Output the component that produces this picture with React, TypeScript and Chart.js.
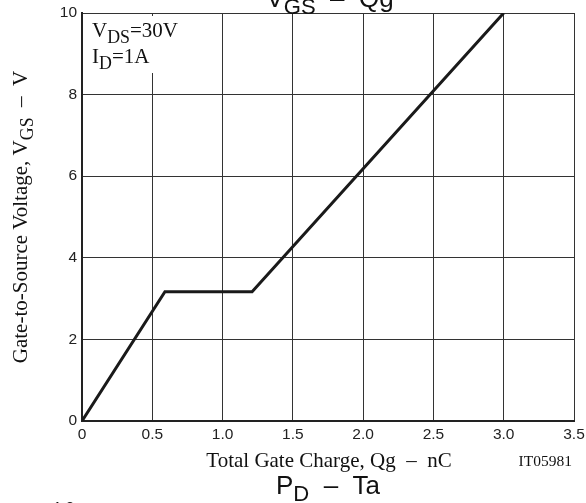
import React, { useEffect, useRef } from "react";
import { Chart, registerables } from "chart.js";

Chart.register(...registerables);

const qg = [0, 0.59, 1.21, 3.0];
const vgs = [0, 3.17, 3.17, 10];
const xTicks = [0, 0.5, 1.0, 1.5, 2.0, 2.5, 3.0, 3.5];
const yTicks = [0, 2, 4, 6, 8, 10];

const SERIF = "'Liberation Serif', 'Times New Roman', serif";
const SANS = "'Liberation Sans', Arial, sans-serif";

function drawSub(ctx: CanvasRenderingContext2D, parts: [string, boolean][], x: number, y: number, size: number, font: string, align: "left" | "center" | "right") {
  let total = 0;
  const widths: number[] = [];
  for (const [t, sub] of parts) {
    ctx.font = `${sub ? size * 0.85 : size}px ${font}`;
    const w = ctx.measureText(t).width;
    widths.push(w);
    total += w;
  }
  let cx = align === "left" ? x : align === "center" ? x - total / 2 : x - total;
  ctx.textAlign = "left";
  ctx.textBaseline = "alphabetic";
  parts.forEach(([t, sub], i) => {
    ctx.font = `${sub ? size * 0.85 : size}px ${font}`;
    ctx.fillText(t, cx, sub ? y + size * 0.28 : y);
    cx += widths[i];
  });
}

const textPlugin = {
  id: "texts",
  beforeDatasetsDraw(chart: any) {
    const ctx = chart.ctx as CanvasRenderingContext2D;
    const { left, top } = chart.chartArea;
    ctx.save();
    ctx.fillStyle = "#fff";
    ctx.fillRect(left + 2, top + 3, 100, 57);
    ctx.restore();
  },
  afterDraw(chart: any) {
    const ctx = chart.ctx as CanvasRenderingContext2D;
    const { left, right, top, bottom } = chart.chartArea;
    ctx.save();
    ctx.fillStyle = "#111";
    drawSub(ctx, [["V", false], ["DS", true], ["=30V", false]], left + 10, 37, 21, SERIF, "left");
    drawSub(ctx, [["I", false], ["D", true], ["=1A", false]], left + 10, 63, 21, SERIF, "left");
    ctx.font = `21px ${SERIF}`;
    ctx.textAlign = "center";
    ctx.textBaseline = "alphabetic";
    ctx.fillText("Total Gate Charge, Qg  \u2013  nC", (left + right) / 2 + 1, 467);
    ctx.font = `15.5px ${SERIF}`;
    ctx.textAlign = "right";
    ctx.fillText("IT05981", 572, 466);
    ctx.save();
    ctx.translate(27, (top + bottom) / 2);
    ctx.rotate(-Math.PI / 2);
    drawSub(ctx, [["Gate-to-Source Voltage, V", false], ["GS", true], ["  \u2013  V", false]], 0, 0, 21, SERIF, "center");
    ctx.restore();
    drawSub(ctx, [["V", false], ["GS", true], ["  \u2013  Qg", false]], 330, 7, 26, SANS, "center");
    drawSub(ctx, [["P", false], ["D", true], ["  \u2013  Ta", false]], 328, 494, 26, SANS, "center");
    ctx.font = `15px ${SANS}`;
    ctx.textAlign = "right";
    ctx.fillText("1.2", 74, 512);
    ctx.restore();
  },
};

export default function App() {
  const ref = useRef<HTMLCanvasElement>(null);
  useEffect(() => {
    document.body.style.margin = "0";
    const chart = new Chart(ref.current!, {
      type: "scatter",
      data: {
        datasets: [
          {
            data: qg.map((x, i) => ({ x, y: vgs[i] })),
            showLine: true,
            borderColor: "#1a1a1a",
            borderWidth: 3,
            pointRadius: 0,
            tension: 0,
          },
        ],
      },
      options: {
        animation: false,
        responsive: false,
        maintainAspectRatio: false,
        layout: { padding: { left: 0, top: 13, right: 12, bottom: 0 } },
        plugins: { legend: { display: false }, tooltip: { enabled: false } },
        scales: {
          x: {
            type: "linear",
            min: 0,
            max: 3.5,
            afterBuildTicks: (s: any) => {
              s.ticks = xTicks.map((v) => ({ value: v }));
            },
            afterFit: (s: any) => {
              s.height = 82;
              s.paddingLeft = 0;
              s.paddingRight = 0;
            },
            ticks: {
              color: "#222",
              font: { family: SANS, size: 15.5 },
              padding: 4,
              maxRotation: 0,
              callback: (v: any) => (v === 0 ? "0" : Number(v).toFixed(1)),
            },
            grid: { color: "#333", lineWidth: 1, drawTicks: false },
            border: { color: "#222", width: 2 },
          },
          y: {
            type: "linear",
            min: 0,
            max: 10,
            afterBuildTicks: (s: any) => {
              s.ticks = yTicks.map((v) => ({ value: v }));
            },
            afterFit: (s: any) => {
              s.width = 82;
              s.paddingTop = 0;
              s.paddingBottom = 0;
            },
            ticks: {
              color: "#222",
              font: { family: SANS, size: 15.5 },
              padding: 5,
              callback: (v: any) => String(v),
            },
            grid: { color: "#333", lineWidth: 1, drawTicks: false },
            border: { color: "#222", width: 2 },
          },
        },
      },
      plugins: [textPlugin],
    } as any);
    return () => chart.destroy();
  }, []);
  return (
    <div style={{ position: "absolute", left: 0, top: 0, width: 586, height: 503 }}>
      <canvas ref={ref} width={586} height={503} style={{ width: 586, height: 503, display: "block" }} />
    </div>
  );
}
